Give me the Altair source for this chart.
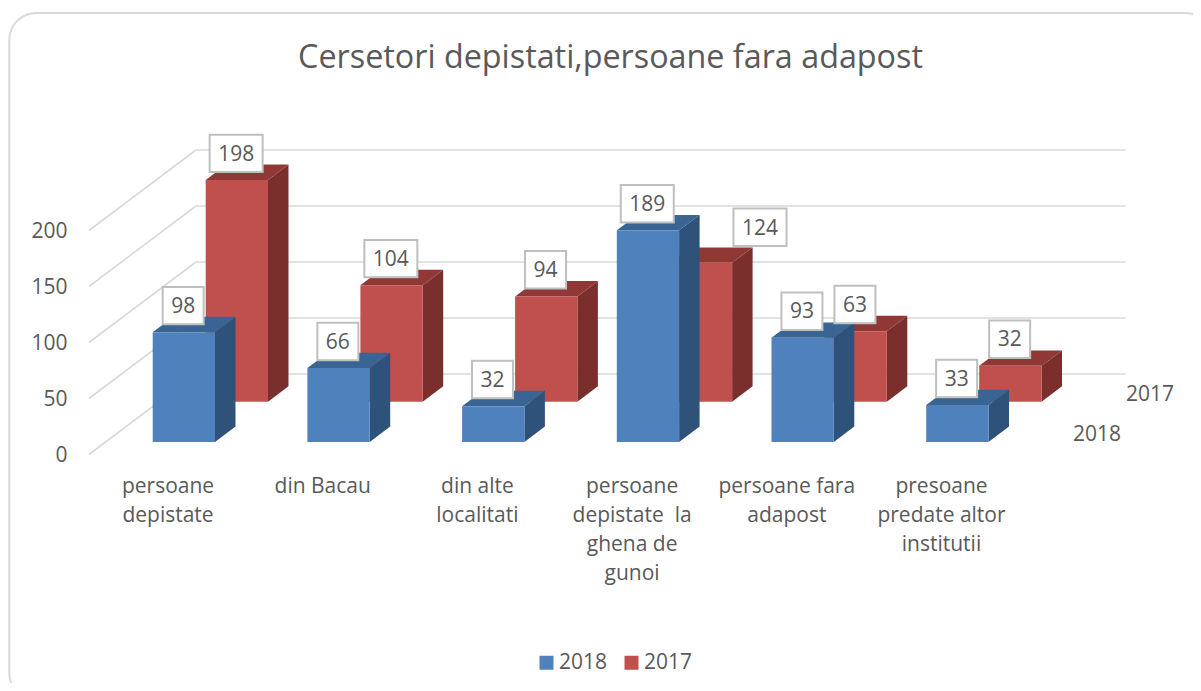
import altair as alt
import pandas as pd

categories = ["persoane|depistate", "din Bacau", "din alte|localitati",
              "persoane|depistate\u00a0 la|ghena de|gunoi", "persoane fara|adapost",
              "presoane|predate altor|institutii"]
values_2018 = [98, 66, 32, 189, 93, 33]
values_2017 = [198, 104, 94, 124, 63, 32]
axis_ticks = [0, 50, 100, 150, 200]
series_names = ["2018", "2017"]
title_text = "Cersetori depistati,persoane fara adapost"

W, H = 1185, 675
MARGIN = 8
STEP = 154.7
PXV = 1.12
CENTER0 = 167.5
ZERO_Y = 454.5
FONT = "Open Sans"
TXT = "#595959"
FS = 21


def xu(p):
    return (p - MARGIN - (CENTER0 - MARGIN)) / STEP


def yu(p):
    return (ZERO_Y - p) / PXV


x_scale = alt.Scale(domain=[xu(MARGIN), xu(MARGIN + W)], nice=False, zero=False)
y_scale = alt.Scale(domain=[yu(MARGIN + H), yu(MARGIN)], nice=False, zero=False)

BAR_W = 62.3
DX, DY = 20.5, 15.4
styles = {
    "2018": dict(left=152.7, base=442.0, top="#3A6493", side="#2F527A"),
    "2017": dict(left=205.7, base=401.7, top="#8F3835", side="#7A2F2D"),
}
series_vals = {"2018": values_2018, "2017": values_2017}

fronts, sides, tops, boxes = [], [], [], []
for s in series_names:
    st = styles[s]
    for i, v in enumerate(series_vals[s]):
        l = st["left"] + i * STEP
        r = l + BAR_W
        b = st["base"]
        t = b - v * PXV
        fronts.append(dict(series=s, x=xu(l), x2=xu(r), y=yu(b), y2=yu(t)))
        sides += [dict(series=s, cat=i, x=xu(r), y=yu(b), y2=yu(t)),
                  dict(series=s, cat=i, x=xu(r + DX), y=yu(b - DY), y2=yu(t - DY))]
        tops += [dict(series=s, cat=i, x=xu(l), y=yu(t), y2=yu(t)),
                 dict(series=s, cat=i, x=xu(l + DX), y=yu(t), y2=yu(t - DY)),
                 dict(series=s, cat=i, x=xu(r), y=yu(t), y2=yu(t - DY)),
                 dict(series=s, cat=i, x=xu(r + DX), y=yu(t - DY), y2=yu(t - DY))]
        cx, cy = (l + r) / 2 - 0.7, t - 26.6
        if s == "2017" and i == 3:   # this label was moved aside in the original
            cx, cy = 760.0, 227.3
        hw = 26.5 if v >= 100 else 20.5
        boxes.append(dict(label=str(v), cx=xu(cx), cy=yu(cy + 1.2), x=xu(cx - hw), x2=xu(cx + hw),
                          y=yu(cy - 18.7), y2=yu(cy + 18.7)))

fronts, sides, tops, boxes = map(pd.DataFrame, (fronts, sides, tops, boxes))

X = lambda **k: alt.X("x:Q", scale=x_scale, title=None, **k)
Y = lambda **k: alt.Y("y:Q", scale=y_scale, title=None, **k)
NOAX = dict(axis=None)

# frame
frame = alt.Chart(pd.DataFrame([dict(x=xu(9.3), x2=xu(1212), y=yu(13), y2=yu(700))])).mark_rect(
    cornerRadius=27, fill="white", stroke="#d9d9d9", strokeWidth=2
).encode(x=X(**NOAX), x2="x2:Q", y=Y(**NOAX), y2="y2:Q")

# walls
grid_rows = []
for v in axis_ticks:
    grid_rows.append(dict(x=xu(89), x2=xu(196), y=yu(ZERO_Y - v * PXV), y2=yu(374 - v * PXV)))
    grid_rows.append(dict(x=xu(196), x2=xu(1125.7), y=yu(374 - v * PXV), y2=yu(374 - v * PXV)))
label_expr = "split(" + repr(categories) + "[datum.value], '|')"
grid = alt.Chart(pd.DataFrame(grid_rows)).mark_rule(color="#d9d9d9", strokeWidth=1.6).encode(
    x=X(axis=alt.Axis(values=list(range(len(categories))), labelExpr=label_expr, orient="bottom",
                      offset=-(H + MARGIN - 475), domain=False, ticks=False, grid=False, labelPadding=0,
                      labelOverlap=False, labelFlush=False, labelFont=FONT, labelFontSize=FS,
                      labelColor=TXT, labelLineHeight=29.3, labelBaseline="top", zindex=1)),
    x2="x2:Q",
    y=Y(axis=alt.Axis(values=axis_ticks, orient="left", offset=-59, domain=False, ticks=False, grid=False,
                      labelPadding=0, labelFont=FONT, labelFontSize=FS, labelColor=TXT, labelOffset=0.5,
                      zindex=1)),
    y2="y2:Q",
)

color = alt.Color("series:N",
                  scale=alt.Scale(domain=series_names, range=["#4F81BD", "#C0504D"]),
                  legend=alt.Legend(orient="none", legendX=528, legendY=644, direction="horizontal",
                                    title=None, symbolType="square", symbolSize=196, symbolStrokeWidth=0,
                                    labelFont=FONT, labelFontSize=FS, labelColor=TXT, columnPadding=13,
                                    labelOffset=2))


def bar_layers(s):
    side_col, top_col = styles[s]["side"], styles[s]["top"]
    f = alt.Chart(fronts[fronts.series == s]).mark_rect().encode(
        x=X(**NOAX), x2="x2:Q", y=Y(**NOAX), y2="y2:Q", color=color)
    sd = alt.Chart(sides[sides.series == s]).mark_area(color=side_col).encode(
        x=X(**NOAX), y=Y(**NOAX), y2="y2:Q", detail="cat:N")
    tp = alt.Chart(tops[tops.series == s]).mark_area(color=top_col).encode(
        x=X(**NOAX), y=Y(**NOAX), y2="y2:Q", detail="cat:N")
    return [sd, tp, f]


box_layer = alt.Chart(boxes).mark_rect(fill="white", stroke="#bfbfbf", strokeWidth=2).encode(
    x=X(**NOAX), x2="x2:Q", y=Y(**NOAX), y2="y2:Q")
box_text = alt.Chart(boxes).mark_text(font=FONT, fontSize=FS, color=TXT).encode(
    x=alt.X("cx:Q", scale=x_scale, axis=None), y=alt.Y("cy:Q", scale=y_scale, axis=None), text="label:N")

depth = pd.DataFrame([dict(label="2017", x=xu(1150), y=yu(395)), dict(label="2018", x=xu(1097), y=yu(435))])
depth_text = alt.Chart(depth).mark_text(font=FONT, fontSize=FS, color=TXT).encode(
    x=X(**NOAX), y=Y(**NOAX), text="label:N")

chart = alt.layer(frame, grid, *bar_layers("2017"), *bar_layers("2018"), box_layer, box_text, depth_text).properties(
    width=W, height=H, padding=0,
    autosize=alt.AutoSizeParams(type="none"),
    title=alt.TitleParams(title_text, font=FONT, fontSize=32.3, fontWeight="normal", color=TXT,
                          anchor="middle", dx=10, offset=-82, baseline="middle"),
).resolve_axis(x="independent", y="independent").configure_view(stroke=None)

chart.save("out.html", embed_options={"renderer": "svg", "actions": False})
